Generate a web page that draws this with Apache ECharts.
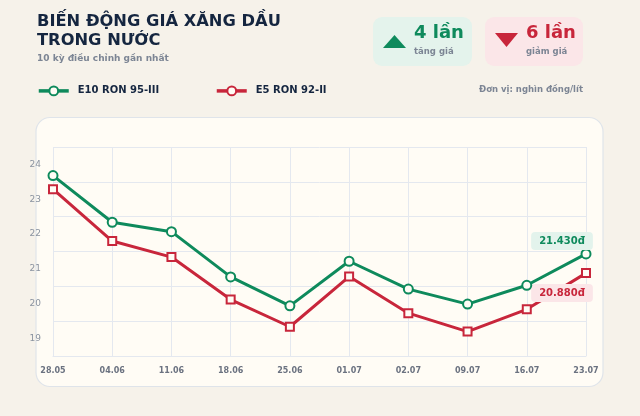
<!DOCTYPE html>
<html>
<head>
<meta charset="utf-8">
<script src="https://cdn.jsdelivr.net/npm/echarts@6/dist/echarts.min.js"></script>
<style>
html,body{margin:0;padding:0;background:#f6f2ea;}
#c{width:640px;height:416px;}
</style>
</head>
<body>
<div id="c"></div>
<script>
const categories = ['28.05','04.06','11.06','18.06','25.06','01.07','02.07','09.07','16.07','23.07'];
const e10Values = [23.68, 22.34, 22.07, 20.77, 19.94, 21.22, 20.42, 19.99, 20.53, 21.43];
const e5Values  = [23.29, 21.80, 21.34, 20.12, 19.34, 20.78, 19.73, 19.20, 19.84, 20.88];
const seriesNames = ['E10 RON 95-III', 'E5 RON 92-II'];
const endLabels = ['21.430đ', '20.880đ'];
const yMin = 18.5, yMax = 24.5;

const GREEN = '#0e8a5c', RED = '#c8263b';
const FONT = 'DejaVu Sans';

function buildData(values, pointSymbol, labelText, color, bg, dy) {
  return values.map((v, i) => {
    const item = {value: v, symbol: pointSymbol};
    if (i === values.length - 1) {
      item.label = {
        show: true, position: 'inside', offset: [-24, dy],
        formatter: labelText, color: color, backgroundColor: bg,
        fontFamily: FONT, fontSize: 10, fontWeight: 'bold',
        padding: [4, 8, 4, 8], borderRadius: 4
      };
    }
    return item;
  });
}

const legendCommon = {
  itemWidth: 30, itemHeight: 11, padding: 0, itemGap: 10,
  lineStyle: {width: 3.5},
  textStyle: {fontFamily: FONT, fontSize: 10, fontWeight: 'bold', color: '#152640', padding: [0, 0, 0, 4]}
};

const chart = echarts.init(document.getElementById('c'), null, {renderer: 'canvas'});
chart.setOption({
  backgroundColor: '#f6f2ea',
  animation: false,
  textStyle: {fontFamily: FONT},
  graphic: [
    {type: 'rect', shape: {x: 36, y: 117.5, width: 567, height: 269, r: 14},
     style: {fill: '#fffcf5', stroke: '#dfe4ea', lineWidth: 1.2}, z: -10},
    {type: 'text', left: 37, top: 12, style: {text: 'BIẾN ĐỘNG GIÁ XĂNG DẦU\nTRONG NƯỚC', font: 'bold 16.3px "DejaVu Sans"', fill: '#152640', lineHeight: 19.5}},
    {type: 'text', left: 37, top: 54.5, style: {text: '10 kỳ điều chỉnh gần nhất', font: 'bold 9px "DejaVu Sans"', fill: '#7c8594'}},
    {type: 'rect', shape: {x: 373, y: 17, width: 99, height: 49, r: 9}, style: {fill: '#e4f3ec'}},
    {type: 'polygon', shape: {points: [[383, 48], [406, 48], [394.5, 35]]}, style: {fill: GREEN}},
    {type: 'text', left: 414, top: 24, style: {text: '4 lần', font: 'bold 18px "DejaVu Sans"', fill: GREEN}},
    {type: 'text', left: 414, top: 47.5, style: {text: 'tăng giá', font: 'bold 8.5px "DejaVu Sans"', fill: '#7c8594'}},
    {type: 'rect', shape: {x: 485, y: 17, width: 98, height: 49, r: 9}, style: {fill: '#fbe6e8'}},
    {type: 'polygon', shape: {points: [[495, 33], [518, 33], [506.5, 47]]}, style: {fill: RED}},
    {type: 'text', left: 526, top: 24, style: {text: '6 lần', font: 'bold 18px "DejaVu Sans"', fill: RED}},
    {type: 'text', left: 526, top: 47.5, style: {text: 'giảm giá', font: 'bold 8.5px "DejaVu Sans"', fill: '#7c8594'}},
    {type: 'text', right: 57, top: 85.5, style: {text: 'Đơn vị: nghìn đồng/lít', font: 'bold 8.5px "DejaVu Sans"', fill: '#7c8594'}}
  ],
  legend: [
    Object.assign({data: [seriesNames[0]], left: 37, top: 85.5}, legendCommon),
    Object.assign({data: [seriesNames[1]], left: 215, top: 85.5}, legendCommon)
  ],
  grid: {left: 53, right: 54, top: 147, bottom: 60, containLabel: false},
  xAxis: {
    type: 'category', data: categories, boundaryGap: false,
    axisLine: {show: true, lineStyle: {color: '#e4e8ef', width: 1}},
    axisTick: {show: false},
    axisLabel: {color: '#6b7280', fontSize: 8, fontWeight: 'bold', fontFamily: FONT, margin: 11},
    splitLine: {show: true, lineStyle: {color: '#e4e8ef', width: 1}}
  },
  yAxis: {
    type: 'value', min: yMin, max: yMax, interval: 0.5,
    axisLine: {show: false}, axisTick: {show: false},
    axisLabel: {color: '#8a93a0', fontSize: 9, fontFamily: FONT, margin: 12,
      formatter: v => (Math.abs(v - Math.round(v)) < 1e-6 ? String(Math.round(v)) : '')},
    splitLine: {show: true, lineStyle: {color: ['#e4e8ef', 'rgba(0,0,0,0)'], width: 1}}
  },
  series: [
    {name: seriesNames[0], type: 'line', data: buildData(e10Values, 'circle', endLabels[0], GREEN, '#e3f3ec', -13),
     symbol: 'circle', symbolSize: 9,
     lineStyle: {color: GREEN, width: 3}, itemStyle: {color: '#fffcf5', borderColor: GREEN, borderWidth: 2}, z: 3},
    {name: seriesNames[1], type: 'line', data: buildData(e5Values, 'rect', endLabels[1], RED, '#fbe6e8', 20),
     symbol: 'circle', symbolSize: 8,
     lineStyle: {color: RED, width: 3}, itemStyle: {color: '#fffcf5', borderColor: RED, borderWidth: 2}, z: 2}
  ]
});
</script>
</body>
</html>
